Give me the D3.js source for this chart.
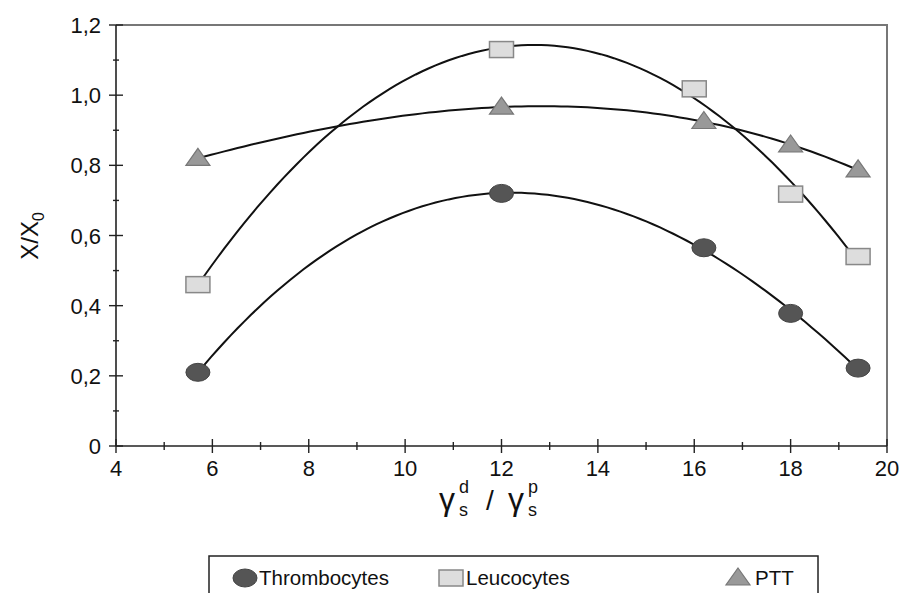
<!DOCTYPE html>
<html><head><meta charset="utf-8">
<script src="https://cdn.jsdelivr.net/npm/d3@7"></script>
<style>
html,body{margin:0;padding:0;background:#fff;}
svg{display:block;font-family:"Liberation Sans",Arial,sans-serif;}
</style></head>
<body><svg id="c" width="899" height="593"></svg>
<script>
const xValues = [5.7, 12, 16.2, 18, 19.4];
const xValuesLeuco = [5.7, 12, 16, 18, 19.4];
const thrombocytes = [0.21, 0.72, 0.565, 0.378, 0.222];
const leucocytes = [0.46, 1.13, 1.018, 0.718, 0.54];
const ptt = [0.82, 0.966, 0.925, 0.858, 0.787];
const xTicks = [4, 6, 8, 10, 12, 14, 16, 18, 20];
const yTicks = [0, 0.2, 0.4, 0.6, 0.8, 1.0, 1.2];
const yTickLabels = ["0", "0,2", "0,4", "0,6", "0,8", "1,0", "1,2"];
const legendLabels = ["Thrombocytes", "Leucocytes", "PTT"];

const svg = d3.select("#c");
const L = 116, R = 887, T = 25, B = 446;
const x = d3.scaleLinear().domain([4, 20]).range([L, R]);
const y = d3.scaleLinear().domain([0, 1.2]).range([B, T]);

// cubic least-squares trendline (like a spreadsheet polynomial trendline)
function polyfit(xs, ys, deg) {
  const n = deg + 1;
  const A = Array.from({length: n}, () => new Array(n + 1).fill(0));
  for (let k = 0; k < xs.length; k++) {
    for (let i = 0; i < n; i++) {
      for (let j = 0; j < n; j++) A[i][j] += Math.pow(xs[k], i + j);
      A[i][n] += ys[k] * Math.pow(xs[k], i);
    }
  }
  for (let i = 0; i < n; i++) {
    let p = i;
    for (let r = i + 1; r < n; r++) if (Math.abs(A[r][i]) > Math.abs(A[p][i])) p = r;
    [A[i], A[p]] = [A[p], A[i]];
    for (let r = 0; r < n; r++) {
      if (r === i) continue;
      const f = A[r][i] / A[i][i];
      for (let c = i; c <= n; c++) A[r][c] -= f * A[i][c];
    }
  }
  return A.map((row, i) => row[n] / row[i]);
}
function trend(xs, ys) {
  const c = polyfit(xs, ys, 3);
  const lo = d3.min(xs), hi = d3.max(xs);
  return d3.range(0, 101).map(i => {
    const xv = lo + (hi - lo) * i / 100;
    return [xv, c.reduce((s, ci, k) => s + ci * Math.pow(xv, k), 0)];
  });
}

// frame
svg.append("path").attr("d", `M${L},${T}H${R}V${B}`).attr("fill", "none")
  .attr("stroke", "#777").attr("stroke-width", 2);

// x axis
const xAxis = svg.append("g").attr("transform", `translate(0,${B})`);
xAxis.append("line").attr("x1", L).attr("x2", R).attr("stroke", "#222").attr("stroke-width", 1.6);
d3.range(4, 20.01, 1).forEach(v => {
  const major = v % 2 === 0;
  const h = major ? 7 : 4;
  xAxis.append("line").attr("x1", x(v)).attr("x2", x(v)).attr("y1", -h).attr("y2", h)
    .attr("stroke", "#222").attr("stroke-width", 1.4);
});
xAxis.selectAll("text.t").data(xTicks).join("text").attr("class", "t")
  .attr("x", d => x(d)).attr("y", 30).attr("text-anchor", "middle")
  .attr("font-size", 22).attr("fill", "#111").text(d => d);

// y axis
const yAxis = svg.append("g").attr("transform", `translate(${L},0)`);
yAxis.append("line").attr("y1", T).attr("y2", B).attr("stroke", "#222").attr("stroke-width", 1.6);
d3.range(0, 12.01, 1).forEach(i => {
  const v = i / 10;
  const major = i % 2 === 0;
  const h = major ? 7 : 3;
  yAxis.append("line").attr("x1", -h).attr("x2", h).attr("y1", y(v)).attr("y2", y(v))
    .attr("stroke", "#222").attr("stroke-width", 1.4);
});
yAxis.selectAll("text.t").data(yTicks).join("text").attr("class", "t")
  .attr("x", -15).attr("y", d => y(d) + 8).attr("text-anchor", "end")
  .attr("font-size", 22).attr("fill", "#111").text((d, i) => yTickLabels[i]);

// y label
const yl = svg.append("text").attr("transform", "translate(38,236) rotate(-90)")
  .attr("text-anchor", "middle").attr("font-size", 24).attr("fill", "#111");
yl.append("tspan").text("X/X");
yl.append("tspan").attr("font-size", 16).attr("dy", 6).text("0");

// x label
const xl = svg.append("g").attr("fill", "#111");
xl.append("text").attr("x", 439).attr("y", 510).attr("font-size", 32).text("γ");
xl.append("text").attr("x", 459).attr("y", 493).attr("font-size", 18).text("d");
xl.append("text").attr("x", 459).attr("y", 516).attr("font-size", 18).text("s");
xl.append("text").attr("x", 486).attr("y", 510).attr("font-size", 28).text("/");
xl.append("text").attr("x", 508).attr("y", 510).attr("font-size", 32).text("γ");
xl.append("text").attr("x", 528).attr("y", 493).attr("font-size", 18).text("p");
xl.append("text").attr("x", 528).attr("y", 516).attr("font-size", 18).text("s");

// trend lines
const line = d3.line().x(d => x(d[0])).y(d => y(d[1]));
const series = [
  {xs: xValues, ys: thrombocytes, type: "ellipse"},
  {xs: xValuesLeuco, ys: leucocytes, type: "square"},
  {xs: xValues, ys: ptt, type: "triangle"}
];
series.forEach(s => {
  svg.append("path").attr("d", line(trend(s.xs, s.ys))).attr("fill", "none")
    .attr("stroke", "#111").attr("stroke-width", 2);
});

function marker(g, type, cx, cy) {
  if (type === "ellipse") {
    g.append("ellipse").attr("cx", cx).attr("cy", cy).attr("rx", 12).attr("ry", 9)
      .attr("fill", "#555").attr("stroke", "#444").attr("stroke-width", 1);
  } else if (type === "square") {
    g.append("rect").attr("x", cx - 12).attr("y", cy - 8).attr("width", 24).attr("height", 16)
      .attr("fill", "#ddd").attr("stroke", "#888").attr("stroke-width", 1.5);
  } else {
    g.append("path").attr("d", `M${cx},${cy - 10}L${cx + 12},${cy + 7}L${cx - 12},${cy + 7}Z`)
      .attr("fill", "#999").attr("stroke", "#777").attr("stroke-width", 1.2);
  }
}
series.forEach(s => {
  const g = svg.append("g");
  s.xs.forEach((xv, i) => marker(g, s.type, x(xv), y(s.ys[i])));
});

// legend
const lg = svg.append("g");
lg.append("rect").attr("x", 209).attr("y", 556).attr("width", 609).attr("height", 50)
  .attr("fill", "#fff").attr("stroke", "#222").attr("stroke-width", 1.5);
const legX = [245, 451, 738];
const legTX = [259, 466, 755];
legendLabels.forEach((lab, i) => {
  marker(lg, series[i].type, legX[i], 578);
  lg.append("text").attr("x", legTX[i]).attr("y", 585).attr("font-size", 20.5)
    .attr("fill", "#111").text(lab);
});
</script></body></html>
